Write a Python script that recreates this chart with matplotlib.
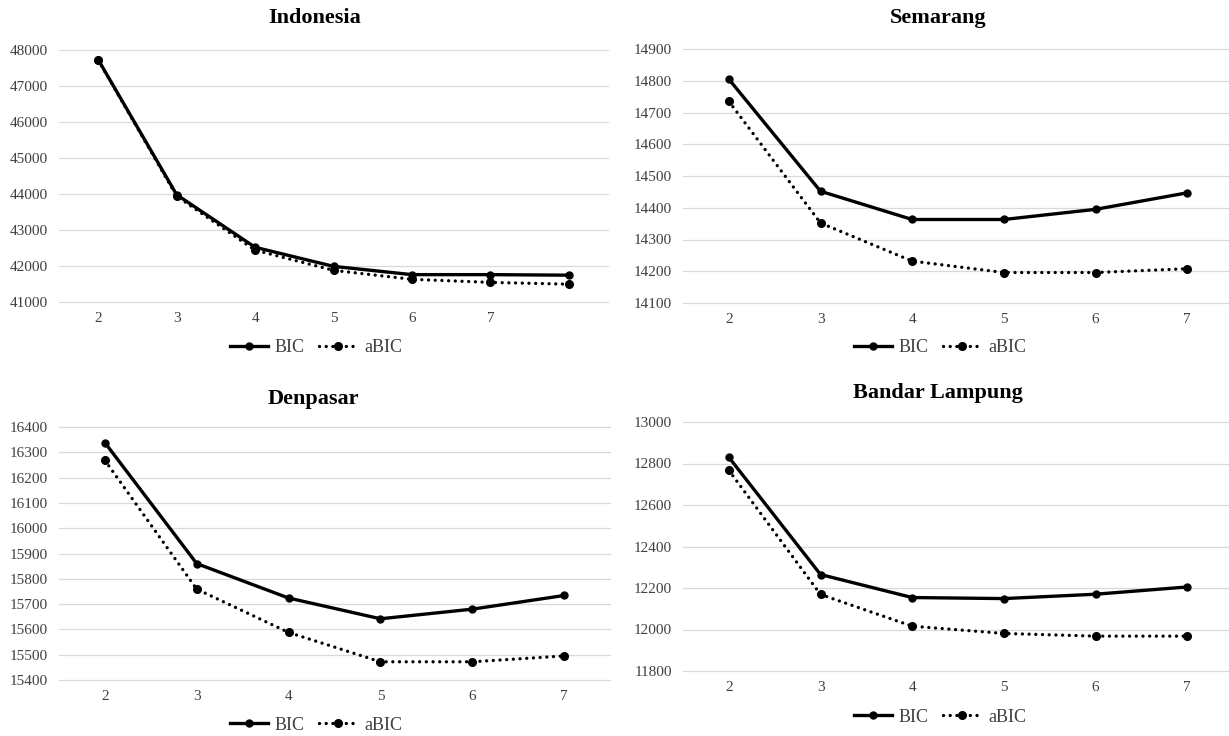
import matplotlib
matplotlib.use("Agg")
import matplotlib.pyplot as plt
from matplotlib.lines import Line2D

plt.rcParams['font.family'] = ['Liberation Serif', 'DejaVu Serif']

# ---- data ----
ind_x = [2, 3, 4, 5, 6, 7, 8]
ind_labels = ['2', '3', '4', '5', '6', '7', '']
ind_bic = [47730, 43980, 42520, 41990, 41760, 41760, 41745]
ind_abic = [47720, 43940, 42440, 41880, 41630, 41545, 41495]

city_x = [2, 3, 4, 5, 6, 7]
city_labels = ['2', '3', '4', '5', '6', '7']

sem_bic = [14805, 14452, 14363, 14363, 14395, 14447]
sem_abic = [14735, 14352, 14232, 14196, 14196, 14208]

den_bic = [16338, 15860, 15724, 15642, 15680, 15734]
den_abic = [16268, 15759, 15588, 15472, 15472, 15495]

bl_bic = [12830, 12265, 12154, 12149, 12170, 12205]
bl_abic = [12767, 12169, 12016, 11981, 11968, 11968]

titles = ['Indonesia', 'Semarang', 'Denpasar', 'Bandar Lampung']
series_names = ['BIC', 'aBIC']

W, H = 1229, 736
fig = plt.figure(figsize=(W / 100, H / 100), dpi=100)


def px_axes(left, right, top, bottom):
    return fig.add_axes([left / W, 1 - bottom / H, (right - left) / W, (bottom - top) / H])


panels = [
    dict(box=(59, 608, 50, 302), x=ind_x, labels=ind_labels, bic=ind_bic, abic=ind_abic,
         ylim=(41000, 48000), step=1000, title=(315, 18), leg=(316, 348)),
    dict(box=(683, 1233, 49, 303), x=city_x, labels=city_labels, bic=sem_bic, abic=sem_abic,
         ylim=(14100, 14900), step=100, title=(938, 18), leg=(940, 348)),
    dict(box=(59, 610, 427, 680), x=city_x, labels=city_labels, bic=den_bic, abic=den_abic,
         ylim=(15400, 16400), step=100, title=(313, 399), leg=(316, 725)),
    dict(box=(683, 1233, 422, 671), x=city_x, labels=city_labels, bic=bl_bic, abic=bl_abic,
         ylim=(11800, 13000), step=200, title=(938, 393), leg=(940, 717)),
]

dot_style = (0, (0.01, 2.0))
tick_color = '#404040'

for p, title in zip(panels, titles):
    l, r, t, b = p['box']
    ax = px_axes(l, r, t, b)
    x = p['x']
    ax.plot(x, p['bic'], color='black', lw=2.4, marker='o', ms=5, solid_capstyle='round',
            label=series_names[0], zorder=3)
    ax.plot(x, p['abic'], color='black', lw=2.4, linestyle=dot_style, dash_capstyle='round',
            marker='o', ms=5.5, label=series_names[1], zorder=3)
    ax.set_xlim(x[0] - 0.5, x[-1] + 0.5)
    ax.set_ylim(*p['ylim'])
    ax.set_xticks(x)
    ax.set_xticklabels(p['labels'])
    lo, hi = p['ylim']
    ax.set_yticks(list(range(lo, hi + 1, p['step'])))
    ax.yaxis.grid(True, color='#d9d9d9', lw=0.9)
    for gl in ax.get_ygridlines():
        gl.set_clip_on(False)
    ax.set_axisbelow(True)
    for s in ax.spines.values():
        s.set_visible(False)
    ax.tick_params(axis='both', length=0, labelsize=11, colors=tick_color)
    ax.tick_params(axis='x', pad=7.5)
    ax.tick_params(axis='y', pad=8)
    fig.text(p['title'][0] / W, 1 - p['title'][1] / H, title, ha='center', va='center',
             fontsize=16, fontweight='bold', color='black')
    handles = [
        Line2D([], [], color='black', lw=2.4, marker='o', ms=5),
        Line2D([], [], color='black', lw=2.4, linestyle=dot_style, dash_capstyle='round',
               marker='o', ms=5.5),
    ]
    fig.legend(handles, series_names, loc='center', ncol=2, frameon=False,
               bbox_to_anchor=(p['leg'][0] / W, 1 - p['leg'][1] / H),
               fontsize=13, handlelength=2.1, handletextpad=0.4, columnspacing=0.8,
               labelcolor=tick_color)

fig.savefig('out.png', dpi=100)
